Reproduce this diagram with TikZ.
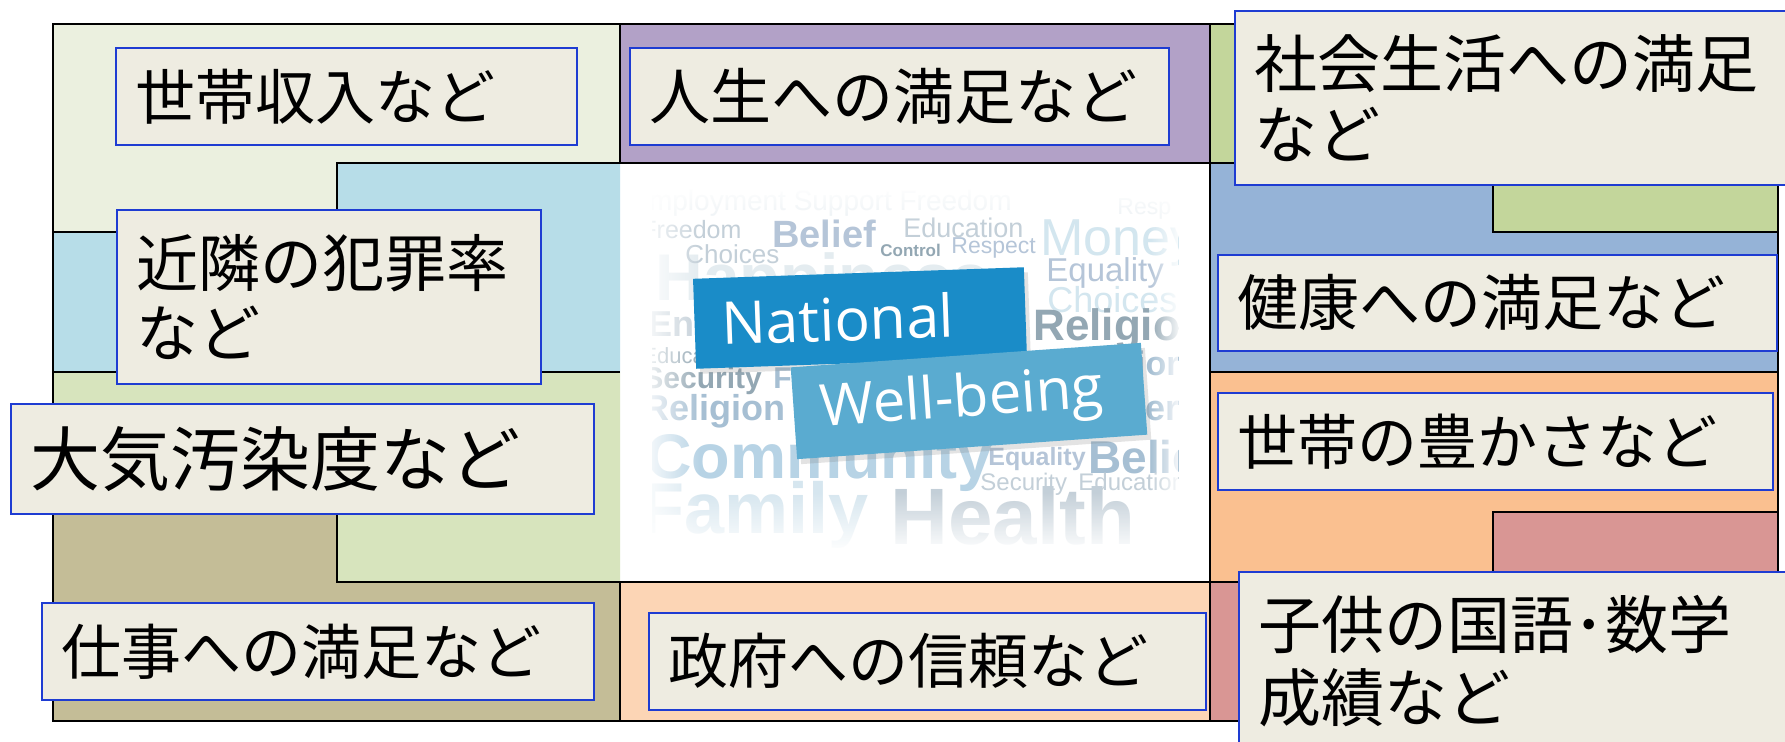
\documentclass[tikz,border=0pt]{standalone}
\usepackage{fontspec}
\newfontfamily\jpfont{Noto Sans CJK JP}
\newfontfamily\cloudfont{Liberation Sans}
\newfontfamily\bannerfont{Open Sans}
\usetikzlibrary{fadings,shadows}

% cell colours
\definecolor{paleGreen}{HTML}{EBF0DF}
\definecolor{aquaBlue}{HTML}{B7DDE8}
\definecolor{oliveGreen}{HTML}{D7E4BD}
\definecolor{khaki}{HTML}{C4BD97}
\definecolor{lavender}{HTML}{B2A1C7}
\definecolor{peach}{HTML}{FCD5B5}
\definecolor{leafGreen}{HTML}{C3D69B}
\definecolor{steelBlue}{HTML}{95B3D7}
\definecolor{apricot}{HTML}{FAC090}
\definecolor{rose}{HTML}{D99694}
% label boxes
\definecolor{labelFill}{HTML}{EEECE1}
\definecolor{labelEdge}{HTML}{1E3CD2}
% banners
\definecolor{nationalBlue}{HTML}{1A8CC8}
\definecolor{wellBlue}{HTML}{5AABD0}
% word cloud tones
\definecolor{cloudGhost}{HTML}{EDF2F5}
\definecolor{cloudFaint}{HTML}{E4ECF0}
\definecolor{cloudMist}{HTML}{D3E6EF}
\definecolor{cloudSilver}{HTML}{C3CFD8}
\definecolor{cloudHaze}{HTML}{B5C5D8}
\definecolor{cloudSlate}{HTML}{93A7B3}
\definecolor{cloudSky}{HTML}{A6BFD3}
\definecolor{cloudIce}{HTML}{B7D3E5}
\definecolor{cloudPale}{HTML}{D6E6EF}

% soft edges of the word cloud
\tikzfading[name=fadeLeftEdge, left color=transparent!0, right color=transparent!100]
\tikzfading[name=fadeRightEdge, left color=transparent!100, right color=transparent!0]
\tikzfading[name=fadeBottomEdge, top color=transparent!100, bottom color=transparent!0]
\tikzfading[name=fadeTopEdge, top color=transparent!0, bottom color=transparent!100]

\tikzset{
  gridline/.style={draw=black, line width=1.2pt, line join=miter},
  jpbox/.style={draw=labelEdge, line width=0.8pt, fill=labelFill, anchor=north west,
    inner xsep=10pt, inner ysep=0pt, align=left, text=black},
  jpsize/.style 2 args={font=\jpfont\fontsize{#1}{#2}\selectfont},
  cwR/.style={anchor=base west, inner sep=0pt, font=\cloudfont\fontsize{#1}{#1}\selectfont},
  cwB/.style={anchor=base west, inner sep=0pt, font=\cloudfont\bfseries\fontsize{#1}{#1}\selectfont},
  banner/.style={inner xsep=13.5pt, inner ysep=0pt, align=left, text=white,
    drop shadow={shadow xshift=2pt, shadow yshift=-2.5pt, opacity=0.22}}
}

\begin{document}
\begin{tikzpicture}[x=0.5pt,y=-0.5pt]
\useasboundingbox (0,0) rectangle (1785,741);
\fill[white] (0,0) rectangle (1785,741);

% ---- left column cells ----
\fill[paleGreen]  (53,24) -- (620,24) -- (620,163) -- (337,163) -- (337,232) -- (53,232) -- cycle;
\fill[aquaBlue]   (337,163) -- (620,163) -- (620,372) -- (53,372) -- (53,232) -- (337,232) -- cycle;
\fill[oliveGreen] (53,372) -- (620,372) -- (620,582) -- (337,582) -- (337,512) -- (53,512) -- cycle;
\fill[khaki]      (53,512) -- (337,512) -- (337,582) -- (620,582) -- (620,721) -- (53,721) -- cycle;
% ---- middle column cells ----
\fill[lavender] (620,24) rectangle (1210,163);
\fill[peach]    (620,582) rectangle (1210,721);
% ---- right column cells ----
\fill[leafGreen] (1210,24) -- (1778,24) -- (1778,232) -- (1493,232) -- (1493,163) -- (1210,163) -- cycle;
\fill[steelBlue] (1210,163) -- (1493,163) -- (1493,232) -- (1778,232) -- (1778,372) -- (1210,372) -- cycle;
\fill[apricot]   (1210,372) -- (1778,372) -- (1778,512) -- (1493,512) -- (1493,582) -- (1210,582) -- cycle;
\fill[rose]      (1210,582) -- (1493,582) -- (1493,512) -- (1778,512) -- (1778,721) -- (1210,721) -- cycle;

% ---- cell borders ----
\draw[gridline] (53,24) rectangle (1778,721);
\draw[gridline] (620,24) -- (620,163);
\draw[gridline] (53,232) -- (337,232) -- (337,163) -- (1210,163);
\draw[gridline] (53,372) -- (620,372);
\draw[gridline] (53,512) -- (337,512) -- (337,582) -- (1493,582) -- (1493,512) -- (1778,512);
\draw[gridline] (620,582) -- (620,721);
\draw[gridline] (1210,24) -- (1210,721);
\draw[gridline] (1210,163) -- (1493,163) -- (1493,232) -- (1778,232);
\draw[gridline] (1210,372) -- (1778,372);

% ---- central word cloud ----
\begin{scope}
\clip (652,188) rectangle (1178,550);
\node[cwR=14, text=cloudGhost] (w01) at (630,210) {Employment Support Freedom};
\node[cwR=11.5, text=cloudGhost] (w02) at (1117,214) {Resp};
\node[cwB=33, text=cloudFaint] (w09) at (655,300) {Happiness};
\node[cwR=12.5, text=cloudSilver] (w03) at (641,238) {Freedom};
\node[cwB=19, text=cloudHaze] (w04) at (772,247) {Belief};
\node[cwR=13.5, text=cloudSilver] (w05) at (903,237) {Education};
\node[cwB=8.5, text=cloudSlate] (w06) at (880,256) {Control};
\node[cwR=11.5, text=cloudHaze] (w07) at (951,253) {Respect};
\node[cwR=26, text=cloudMist] (w08) at (1040,255) {Money};
\node[cwR=13, text=cloudSilver] (w10) at (685,263) {Choices};
\node[cwR=16.5, text=cloudHaze] (w11) at (1046,281) {Equality};
\node[cwR=18, text=cloudMist] (w12) at (1047,312) {Choices};
\node[cwB=22, text=cloudSlate] (w13) at (1033,340) {Religion};
\node[cwB=18, text=cloudSilver] (w14) at (648,336) {Environment};
\node[cwR=11, text=cloudSlate] (w15) at (642,363) {Education};
\node[cwB=15, text=cloudSlate] (w16) at (643,388) {Security};
\node[cwB=15, text=cloudSky] (w17) at (773,388) {Freedom};
\node[cwB=18, text=cloudSky] (w18) at (643,420) {Religion};
\node[cwB=17, text=cloudSky, anchor=base east] (w19) at (1180,375) {Behavior};
\node[cwB=18, text=cloudSky, anchor=base east] (w20) at (1180,420) {Career};
\node[cwB=31.5, text=cloudIce] (w21) at (646,478) {Community};
\node[cwB=12.5, text=cloudHaze] (w22) at (988,465) {Equality};
\node[cwB=23, text=cloudSky] (w23) at (1088,473) {Belief};
\node[cwR=12, text=cloudSilver] (w24) at (980,490) {Security};
\node[cwR=12, text=cloudSilver] (w25) at (1078,490) {Education};
\node[cwB=36, text=cloudPale] (w26) at (640,533) {Family};
\node[cwB=40, text=cloudSilver] (w27) at (890,544) {Health};
% white haze over the edges
\fill[white, path fading=fadeLeftEdge]   (640,185) rectangle (700,560);
\fill[white, path fading=fadeRightEdge]  (1150,185) rectangle (1182,560);
\fill[white, path fading=fadeBottomEdge] (640,492) rectangle (1185,552);
\fill[white, path fading=fadeTopEdge]    (640,185) rectangle (1185,222);
\end{scope}

% ---- title banners ----
\node[banner, fill=nationalBlue, minimum width=165.5pt, minimum height=45pt,
      text width=138.5pt, rotate=2, font=\bannerfont\fontsize{29.5}{30}\selectfont]
      (national) at (860,318) {National};
\node[banner, fill=wellBlue, minimum width=175.5pt, minimum height=46pt,
      text width=148.5pt, rotate=4, font=\bannerfont\fontsize{29}{30}\selectfont]
      (wellbeing) at (969,401) {Well-being};

% ---- indicator labels ----
\node[jpbox, jpsize={30}{35}, text width=210.5pt, minimum height=48.5pt] (income) at (115,47) {世帯収入など};
\node[jpbox, jpsize={30.5}{35}, text width=249.5pt, minimum height=48.5pt] (life) at (629,47) {人生への満足など};
\node[jpbox, jpsize={31.5}{35.5}, text width=263pt, minimum height=87pt] (social) at (1234,10) {社会生活への満足\\など};
\node[jpbox, jpsize={31}{35}, text width=192pt, minimum height=87pt] (crime) at (116,209) {近隣の犯罪率\\など};
\node[jpbox, jpsize={30.5}{35}, text width=259.5pt, minimum height=48pt] (health) at (1217,254) {健康への満足など};
\node[jpbox, jpsize={35}{40}, text width=271.5pt, minimum height=55pt] (air) at (10,403) {大気汚染度など};
\node[jpbox, jpsize={30}{35}, text width=257.5pt, minimum height=48.5pt] (wealth) at (1217,392) {世帯の豊かさなど};
\node[jpbox, jpsize={30}{35}, text width=256pt, minimum height=48.5pt] (job) at (41,602) {仕事への満足など};
\node[jpbox, jpsize={30}{35}, text width=258.5pt, minimum height=48.5pt] (trust) at (648,612) {政府への信頼など};
\node[jpbox, jpsize={31.5}{36.5}, text width=261pt, minimum height=89pt] (school) at (1238,571) {子供の国語･数学\\成績など};
\end{tikzpicture}
\end{document}
